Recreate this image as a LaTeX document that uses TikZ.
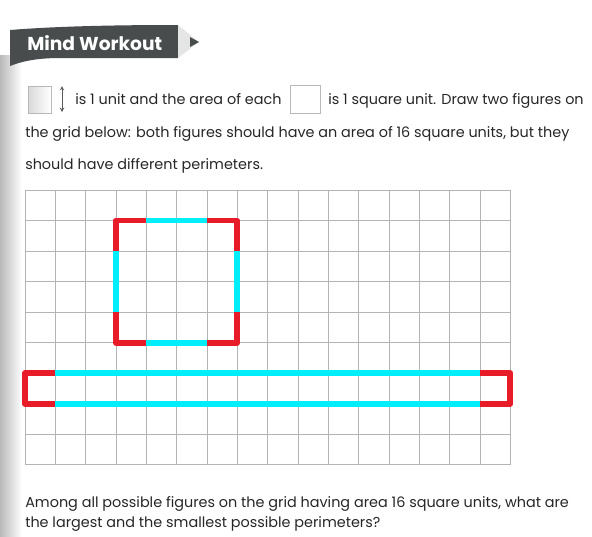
\documentclass[tikz,border=0pt]{standalone}
\usepackage{fontspec}
\setmainfont{Poppins}
\usetikzlibrary{positioning}
\definecolor{redline}{RGB}{232,28,40}
\definecolor{cyanline}{RGB}{0,238,250}
\definecolor{bannergray}{RGB}{72,76,76}
\definecolor{gridgray}{RGB}{180,180,180}
\tikzset{
  body/.style={anchor=base west, inner sep=0pt, font=\fontsize{10.8}{12}\selectfont, text=black!85},
  redseg/.style={draw=redline, line width=4.3pt, line join=round},
  cyanseg/.style={draw=cyanline, line width=4.3pt},
  unitbox/.style={draw=gray!55, inner sep=0pt},
}
\begin{document}
\begin{tikzpicture}[x=0.75pt,y=-0.75pt]
  \useasboundingbox (0,0) rectangle (592,536);
  \shade[left color=gray!55, right color=white] (0,55) rectangle (22,536);

  % banner
  \fill[bannergray] (10,30) .. controls (60,26) and (120,25) .. (178,25) -- (178,58)
    -- (60,58) .. controls (35,58) and (20,62) .. (10,66) -- cycle;
  \fill[gray!20] (178,25) -- (199,42) -- (178,58) -- cycle;
  \fill[bannergray] (190,37) -- (199,42) -- (190,47) -- cycle;
  \node[anchor=west, inner sep=0pt, text=white, font=\fontsize{14}{16}\selectfont\bfseries] (title) at (27,43) {Mind Workout};

  % first line
  \node[unitbox, left color=gray!30, right color=white, minimum width=17pt, minimum height=20pt] (unitsq) at (39.5,99.5) {};
  \path (62,86) coordinate (arrtop);
  \path (62,112) coordinate (arrbot);
  \draw[<->, >=stealth, gray!70!black, line width=0.5pt] (arrtop) -- (arrbot);
  \node[body] (lineA) at (75,104) {is 1 unit and the area of each};
  \node[unitbox, minimum width=22.5pt, minimum height=21pt] (areasq) at (305,99) {};
  \node[body] (lineB) at (328,104) {is 1 square unit. Draw two figures on};
  \node[body] (lineC) at (25,137) {the grid below: both figures should have an area of 16 square units, but they};
  \node[body] (lineD) at (25,169) {should have different perimeters.};

  % grid and the two figures
  \begin{scope}[shift={(25,190)}, x=22.75pt, y=-22.9pt]
    \foreach \c in {0,...,16}
      \draw[gridgray, line width=0.6pt] (\c,0) -- (\c,9);
    \foreach \r in {0,...,9}
      \draw[gridgray, line width=0.6pt] (0,\r) -- (16,\r);

    \draw[cyanseg] (4,1) -- (6,1);
    \draw[cyanseg] (7,2) -- (7,4);
    \draw[cyanseg] (6,5) -- (4,5);
    \draw[cyanseg] (3,4) -- (3,2);
    \draw[redseg] (3,2) -- (3,1) -- (4,1);
    \draw[redseg] (6,1) -- (7,1) -- (7,2);
    \draw[redseg] (7,4) -- (7,5) -- (6,5);
    \draw[redseg] (4,5) -- (3,5) -- (3,4);

    \draw[cyanseg] (1,6) -- (15,6);
    \draw[cyanseg] (1,7) -- (15,7);
    \draw[redseg] (1,6) -- (0,6) -- (0,7) -- (1,7);
    \draw[redseg] (15,6) -- (16,6) -- (16,7) -- (15,7);
  \end{scope}

  % question
  \node[body] (askA) at (25,507) {Among all possible figures on the grid having area 16 square units, what are};
  \node[body] (askB) at (25,527) {the largest and the smallest possible perimeters?};
\end{tikzpicture}
\end{document}
